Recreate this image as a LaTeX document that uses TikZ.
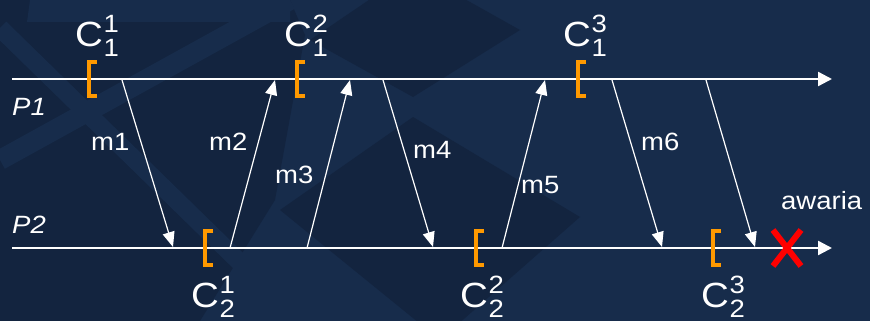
\documentclass[tikz,border=0pt]{standalone}
\usepackage{fontspec}
\setmainfont{Liberation Sans}[FakeStretch=1.1]
\usetikzlibrary{arrows.meta}
\definecolor{bgbase}{HTML}{172C4B}
\definecolor{bgdark}{HTML}{13243F}
\definecolor{ckorange}{HTML}{FF9900}
\newcommand{\Clab}[2]{{\fontsize{35}{35}\selectfont C}\kern0.5pt{\fontsize{25}{25}\selectfont\rlap{\raisebox{14pt}{#1}}\raisebox{-10pt}{#2}}}
\tikzset{
  timeline/.style={draw=white, line width=2.4pt, -{Triangle[length=14pt,width=14pt]}},
  msg/.style={draw=white, line width=1.2pt, -{Triangle[length=15pt,width=12pt]}},
  lbl/.style={text=white, inner sep=0pt, anchor=base west, font=\fontsize{25}{25}\selectfont},
  plbl/.style={lbl, font=\itshape\fontsize{25}{25}\selectfont},
  clbl/.style={text=white, inner sep=0pt, anchor=base west},
  ckbracket/.pic={\draw[ckorange, line width=4pt, line join=miter] (8.5,-17) -- (0,-17) -- (0,17) -- (8.5,17);},
  failx/.style={draw=red, line width=6pt},
  band/.style={draw=bgbase, line width=#1},
  band/.default=18pt
}
\begin{document}
\begin{tikzpicture}[x=1pt,y=-1pt]
\useasboundingbox (0,0) rectangle (870,321);
\fill[bgbase] (0,0) rectangle (870,321);
\begin{scope}
\clip (0,0) rectangle (870,321);
% left patterned area
\fill[bgdark] (0,0) -- (290,0) -- (305,35) -- (275,200) -- (200,321) -- (0,321) -- cycle;
\fill[bgbase] (30,0) -- (290,0) -- (290,22) -- (27,22) -- cycle;
\draw[band] (0,28) -- (300,321);
\draw[band=20pt] (0,160) -- (290,0);
% middle diamonds
\fill[bgdark] (310,40) -- (413,97) -- (520,30) -- (413,-30) -- cycle;
\fill[bgdark] (280,210) -- (413,117) -- (580,217) -- (440,340) -- cycle;
\end{scope}
% time lines
\coordinate (p1s) at (12,79);
\coordinate (p1e) at (832,79);
\coordinate (p2s) at (12,248);
\coordinate (p2e) at (832,248);
\draw[timeline] (p1s) -- (p1e);
\draw[timeline] (p2s) -- (p2e);
\node[plbl] (lp1) at (12,115) {P1};
\node[plbl] (lp2) at (12,233) {P2};
% checkpoints
\pic at (88.5,79) {ckbracket};
\pic at (296.5,79) {ckbracket};
\pic at (577.5,79) {ckbracket};
\pic at (204.5,248) {ckbracket};
\pic at (475.5,248) {ckbracket};
\pic at (712.5,248) {ckbracket};
\node[clbl] (c11) at (75,47) {\Clab{1}{1}};
\node[clbl] (c12) at (284,47) {\Clab{2}{1}};
\node[clbl] (c13) at (563,47) {\Clab{3}{1}};
\node[clbl] (c21) at (191,307) {\Clab{1}{2}};
\node[clbl] (c22) at (460,307) {\Clab{2}{2}};
\node[clbl] (c23) at (701,307) {\Clab{3}{2}};
% message end points
\coordinate (m1a) at (122,80);  \coordinate (m1b) at (173,247);
\coordinate (m2a) at (230,248); \coordinate (m2b) at (275,80);
\coordinate (m3a) at (307,248); \coordinate (m3b) at (350,80);
\coordinate (m4a) at (383,80);  \coordinate (m4b) at (433,247);
\coordinate (m5a) at (502,248); \coordinate (m5b) at (545,80);
\coordinate (m6a) at (612,80);  \coordinate (m6b) at (662,247);
\coordinate (m7a) at (706,80);  \coordinate (m7b) at (755,247);
\draw[msg] (m1a) -- (m1b);
\draw[msg] (m2a) -- (m2b);
\draw[msg] (m3a) -- (m3b);
\draw[msg] (m4a) -- (m4b);
\draw[msg] (m5a) -- (m5b);
\draw[msg] (m6a) -- (m6b);
\draw[msg] (m7a) -- (m7b);
\node[lbl] (l1) at (91,150) {m1};
\node[lbl] (l2) at (209,150) {m2};
\node[lbl] (l3) at (275,183) {m3};
\node[lbl] (l4) at (413,158) {m4};
\node[lbl] (l5) at (521,193) {m5};
\node[lbl] (l6) at (641,150) {m6};
\node[lbl] (law) at (781,209) {awaria};
% failure
\coordinate (xa) at (773,230); \coordinate (xb) at (801,266);
\coordinate (xc) at (801,230); \coordinate (xd) at (773,266);
\draw[failx] (xa) -- (xb);
\draw[failx] (xc) -- (xd);
\end{tikzpicture}
\end{document}
